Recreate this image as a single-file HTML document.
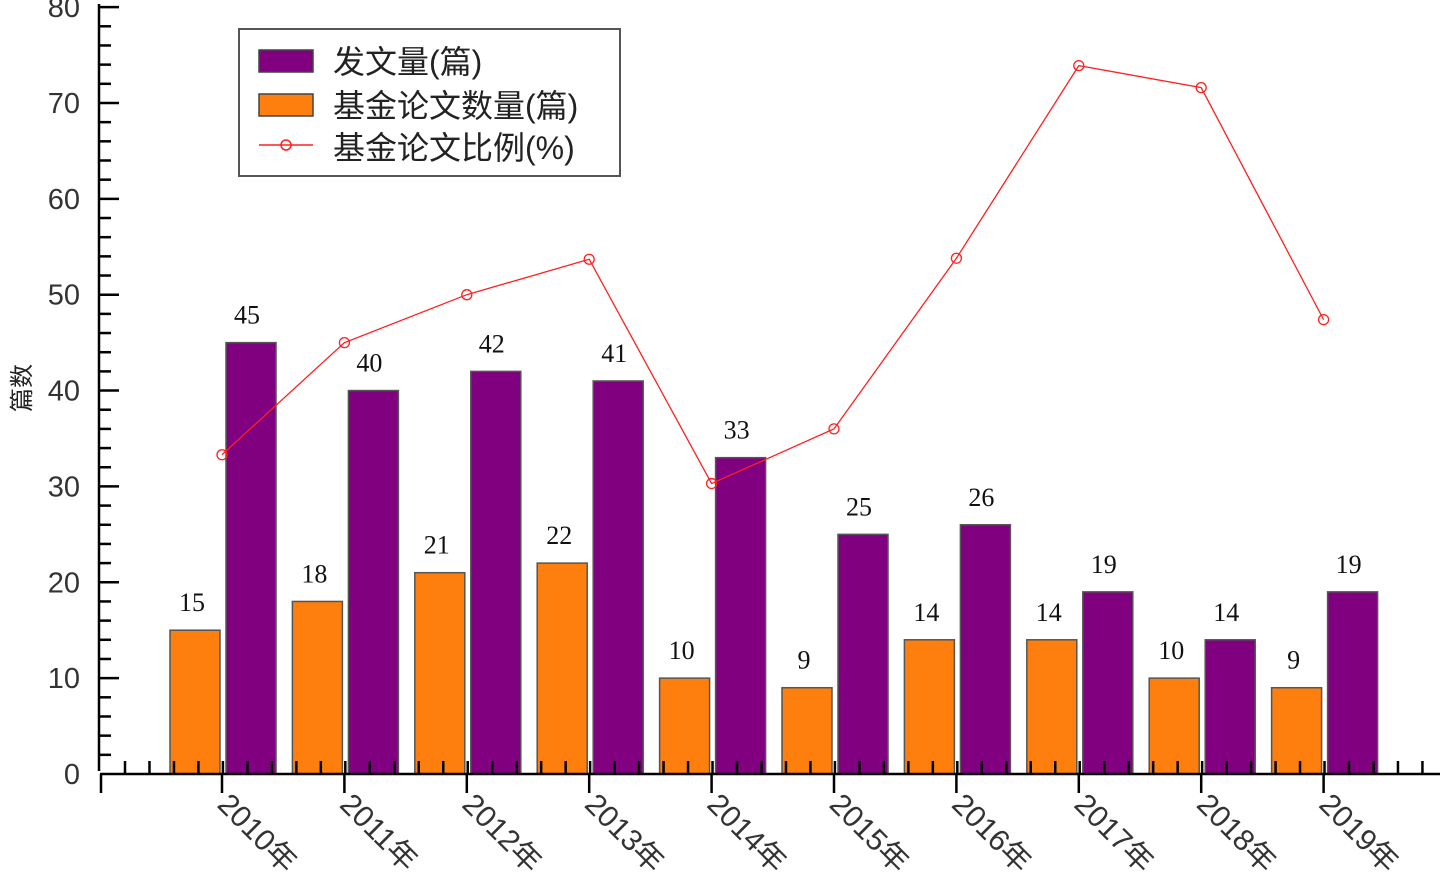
<!DOCTYPE html>
<html><head><meta charset="utf-8"><style>
body{margin:0;background:#fff;}
svg{display:block;font-family:"Liberation Sans","Noto Sans CJK SC",sans-serif;}
</style></head><body>
<svg id="chart" width="1440" height="894" viewBox="0 0 1440 894" xmlns="http://www.w3.org/2000/svg"></svg>
<script>
const categories=["2010年","2011年","2012年","2013年","2014年","2015年","2016年","2017年","2018年","2019年"];
const totalPapers=[45,40,42,41,33,25,26,19,14,19];
const fundedPapers=[15,18,21,22,10,9,14,14,10,9];
const fundedRatio=[33.3,45,50,53.7,30.3,36,53.8,73.9,71.6,47.4];
const yTicks=[0,10,20,30,40,50,60,70,80];

const svg=document.getElementById('chart');
const NS="http://www.w3.org/2000/svg";
function mk(tag,attrs,parent){const e=document.createElementNS(NS,tag);for(const k in attrs)e.setAttribute(k,attrs[k]);(parent||svg).appendChild(e);return e;}
const y0=774,pxPerUnit=9.586;
function yScale(v){return y0-v*pxPerUnit;}
function xScale(i){return 222+i*122.4;}

categories.forEach((c,i)=>{
  const xc=xScale(i);
  const ob=mk('rect',{x:xc-52,y:yScale(fundedPapers[i]),width:50,height:fundedPapers[i]*pxPerUnit,fill:'#ff7f0e',stroke:'#555','stroke-width':1.5});
  
  
  const pb=mk('rect',{x:xc+4,y:yScale(totalPapers[i]),width:50,height:totalPapers[i]*pxPerUnit,fill:'#800080',stroke:'#555','stroke-width':1.5});
  
  
  const ot=mk('text',{x:xc-30,y:yScale(fundedPapers[i])-19,'text-anchor':'middle','font-size':26,'font-family':'Liberation Serif,serif',fill:'#111'});
  ot.textContent=fundedPapers[i];
  
  
  const pt=mk('text',{x:xc+25,y:yScale(totalPapers[i])-19,'text-anchor':'middle','font-size':26,'font-family':'Liberation Serif,serif',fill:'#111'});
  pt.textContent=totalPapers[i];
  
  
});

const ax=mk('g',{stroke:'#000','stroke-width':2.5});


mk('line',{x1:99,y1:4,x2:99,y2:771},ax);
mk('line',{x1:100,y1:774,x2:1440,y2:774},ax);
for(let v=0;v<=80;v+=2){const y=yScale(v);const major=v%10===0;if(v===0)continue;mk('line',{x1:99,y1:y,x2:major?119:111,y2:y},ax);}
mk('line',{x1:101,y1:774,x2:101,y2:793},ax);
for(let i=0;i<categories.length;i++){mk('line',{x1:xScale(i),y1:774,x2:xScale(i),y2:793},ax);}
for(let x=125;x<1440;x+=24.48){mk('line',{x1:x,y1:761,x2:x,y2:774},ax);}

yTicks.forEach(v=>{
  const t=mk('text',{x:80,y:yScale(v)+10,'text-anchor':'end','font-size':29,fill:'#333'});
  t.textContent=v;
  
  
});
categories.forEach((c,i)=>{
  const x=xScale(i)-6,y=806;
  const t=mk('text',{x:x,y:y,'font-size':30,fill:'#333',transform:`rotate(45 ${x} ${y})`});
  t.textContent=c;
  
  
});
const yt=mk('text',{x:30,y:388,'text-anchor':'middle','font-size':24,fill:'#222',transform:'rotate(-90 30 388)'});
yt.textContent='篇数';



const pts=fundedRatio.map((v,i)=>xScale(i)+','+yScale(v)).join(' ');
const pl=mk('polyline',{points:pts,fill:'none',stroke:'#ff2020','stroke-width':1.3});


fundedRatio.forEach((v,i)=>{
  const c=mk('circle',{cx:xScale(i),cy:yScale(v),r:5,fill:'none',stroke:'#ff2020','stroke-width':1.3});
  
  
});

const lg=mk('g',{});


mk('rect',{x:239,y:29,width:381,height:147,fill:'#fff',stroke:'#555','stroke-width':2},lg);
mk('rect',{x:259,y:50,width:54,height:22,fill:'#800080',stroke:'#444','stroke-width':1.5},lg);
mk('rect',{x:259,y:94,width:54,height:22,fill:'#ff7f0e',stroke:'#444','stroke-width':1.5},lg);
mk('line',{x1:259,y1:145,x2:313,y2:145,stroke:'#ff2020','stroke-width':1.5},lg);
mk('circle',{cx:286,cy:145,r:5,fill:'none',stroke:'#ff2020','stroke-width':1.5},lg);
[['发文量(篇)',73],['基金论文数量(篇)',117],['基金论文比例(%)',159]].forEach(([s,y])=>{
  const t=mk('text',{x:333,y:y,'font-size':32,fill:'#222'},lg);
  t.textContent=s;
  
  
});
</script>
</body></html>
